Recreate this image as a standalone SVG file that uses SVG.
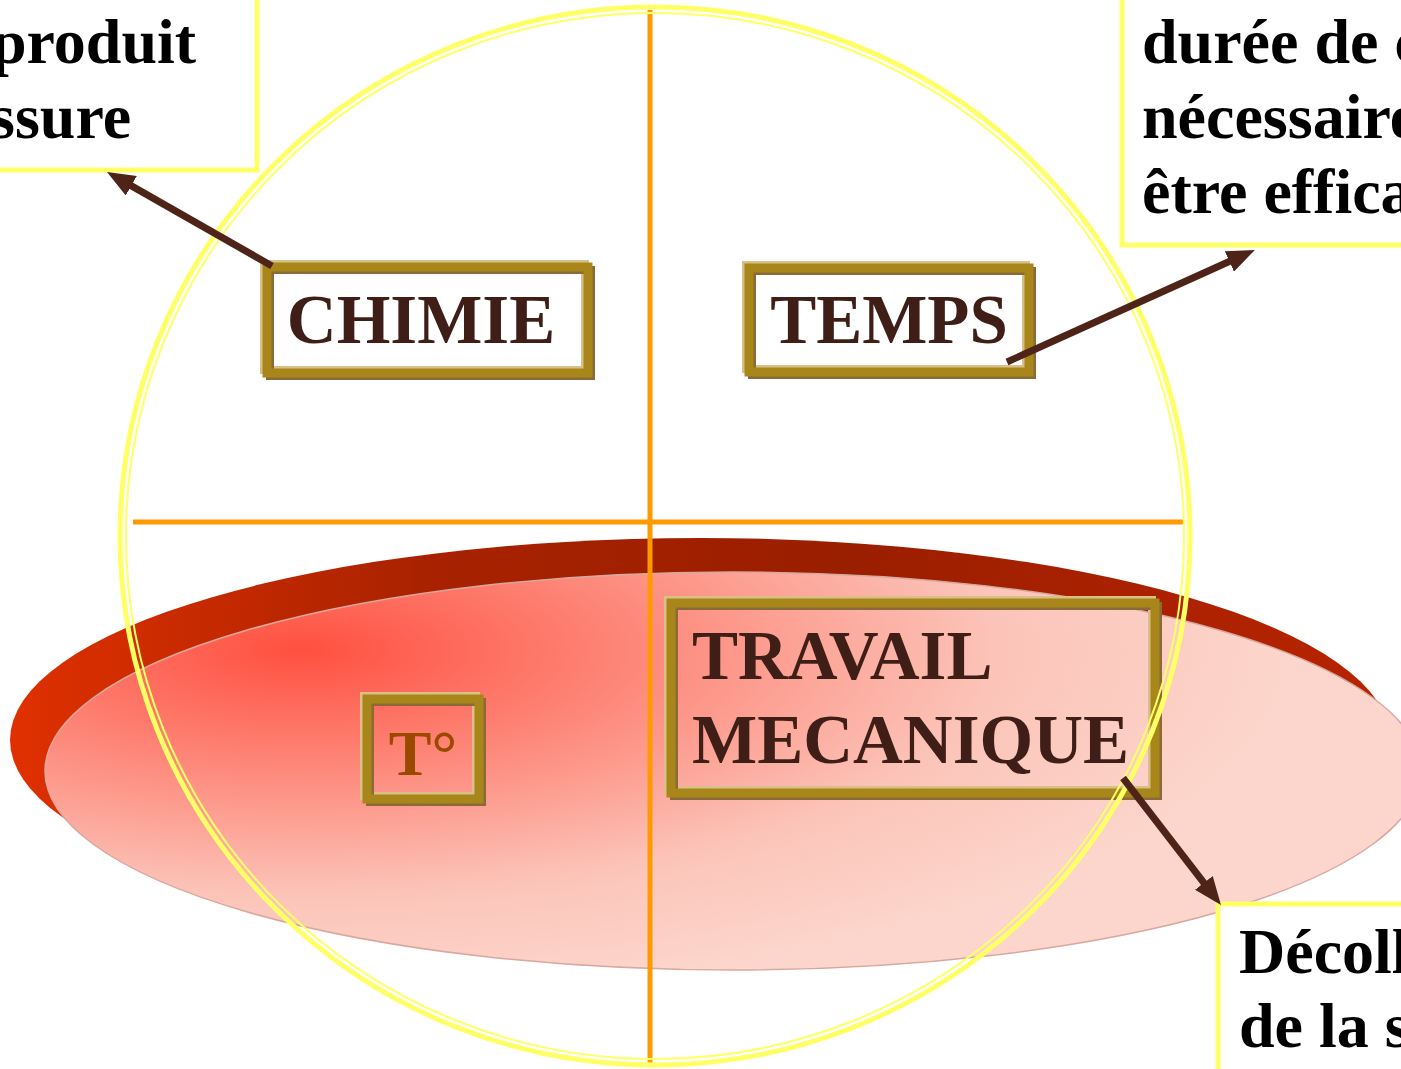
<svg xmlns="http://www.w3.org/2000/svg" width="1401" height="1069" viewBox="0 0 1401 1069">
<style>
.lbl{font-family:"Liberation Serif","Times New Roman",serif;font-weight:bold;font-size:69px;fill:#3e1e16}
.call{font-family:"Liberation Serif","Times New Roman",serif;font-weight:bold;font-size:64px;fill:#000}
.cbox{fill:#fff;stroke:#ffff66;stroke-width:5}
.fr{fill:none;stroke:#a8861a;stroke-width:9}
.frl{fill:none;stroke:#d8c088;stroke-width:8}
.frd{fill:none;stroke:#8b6a3a;stroke-width:8}
.arr{stroke:#4e2418;stroke-width:7;fill:none;marker-end:url(#ah)}
.orng{stroke:#ff9900;stroke-width:5}
</style>
<defs>
<marker id="ah" viewBox="0 0 10 8" refX="3" refY="4" markerWidth="4" markerHeight="3.2" orient="auto" markerUnits="strokeWidth">
<path d="M0,0 L10,4 L0,8 z" fill="#4e2418"/>
</marker>
<linearGradient id="rim" x1="10" y1="0" x2="1401" y2="0" gradientUnits="userSpaceOnUse">
<stop offset="0" stop-color="#e03000"/>
<stop offset="0.3" stop-color="#a82200"/>
<stop offset="0.6" stop-color="#9a1e00"/>
<stop offset="1" stop-color="#b82400"/>
</linearGradient>
<radialGradient id="pink" gradientUnits="userSpaceOnUse" cx="0" cy="0" r="1" gradientTransform="translate(300,650) scale(1000,350)">
<stop offset="0" stop-color="#ff5040"/>
<stop offset="0.35" stop-color="#fd8a7c"/>
<stop offset="0.7" stop-color="#fcc4b9"/>
<stop offset="1" stop-color="#fcd6cc"/>
</radialGradient>
</defs>

<g id="callout-left">
<rect class="cbox" x="-10" y="-10" width="267" height="180"/>
<text class="call" x="-9" y="63">produit</text>
<text class="call" x="-10" y="138">ssure</text>
</g>
<g id="callout-right">
<rect class="cbox" x="1122" y="-10" width="290" height="255"/>
<text class="call" x="1142" y="63">durée de c</text>
<text class="call" x="1142" y="138">nécessaire</text>
<text class="call" x="1142" y="213">être effica</text>
</g>

<g id="disc">
<ellipse cx="700" cy="740" rx="690" ry="202" fill="url(#rim)"/>
<ellipse cx="733" cy="771" rx="688" ry="199" fill="url(#pink)" stroke="#d8a8a0" stroke-width="1.5"/>
</g>

<g id="callout-bottom">
<rect class="cbox" x="1218" y="904" width="200" height="180"/>
<text class="call" x="1239" y="973">Décoll</text>
<text class="call" x="1239" y="1047">de la s</text>
</g>

<g id="axes">
<line class="orng" x1="650" y1="10" x2="650" y2="1066"/>
<line class="orng" x1="133" y1="522" x2="1183" y2="522"/>
</g>

<g id="node-chimie">
<rect class="frl" x="264" y="264" width="321" height="106"/>
<rect class="frd" x="270" y="270" width="321" height="106"/>
<rect class="fr" x="267" y="267" width="321" height="106" fill="#fff"/>
<text class="lbl" x="421" y="343" text-anchor="middle">CHIMIE</text>
</g>
<g id="node-temps">
<rect class="frl" x="746" y="265" width="280" height="104"/>
<rect class="frd" x="752" y="271" width="280" height="104"/>
<rect class="fr" x="749" y="268" width="280" height="104" fill="#fff"/>
<text class="lbl" x="889" y="343" text-anchor="middle">TEMPS</text>
</g>
<g id="node-temperature">
<rect class="frl" x="364" y="696" width="112" height="100"/>
<rect class="frd" x="370" y="702" width="112" height="100"/>
<rect class="fr" x="367" y="699" width="112" height="100"/>
<text class="lbl" x="423" y="775" text-anchor="middle" style="fill:#9a4a00;font-size:64px">T°</text>
</g>
<g id="node-travail">
<rect class="frl" x="668" y="600" width="484" height="190"/>
<rect class="frd" x="674" y="606" width="484" height="190"/>
<rect class="fr" x="671" y="603" width="484" height="190"/>
<text class="lbl" x="692" y="679">TRAVAIL</text>
<text class="lbl" x="692" y="763">MECANIQUE</text>
</g>

<g id="circle">
<ellipse cx="655" cy="536" rx="535" ry="529" fill="none" stroke="#ffff66" stroke-width="5"/>
<ellipse cx="655" cy="536" rx="529" ry="523" fill="none" stroke="#ffff66" stroke-width="2"/>
</g>

<g id="connectors">
<line class="arr" x1="272" y1="266" x2="124" y2="181.6"/>
<line class="arr" x1="1007" y1="362" x2="1237" y2="258"/>
<line class="arr" x1="1123" y1="778" x2="1209" y2="889.5"/>
</g>
</svg>
